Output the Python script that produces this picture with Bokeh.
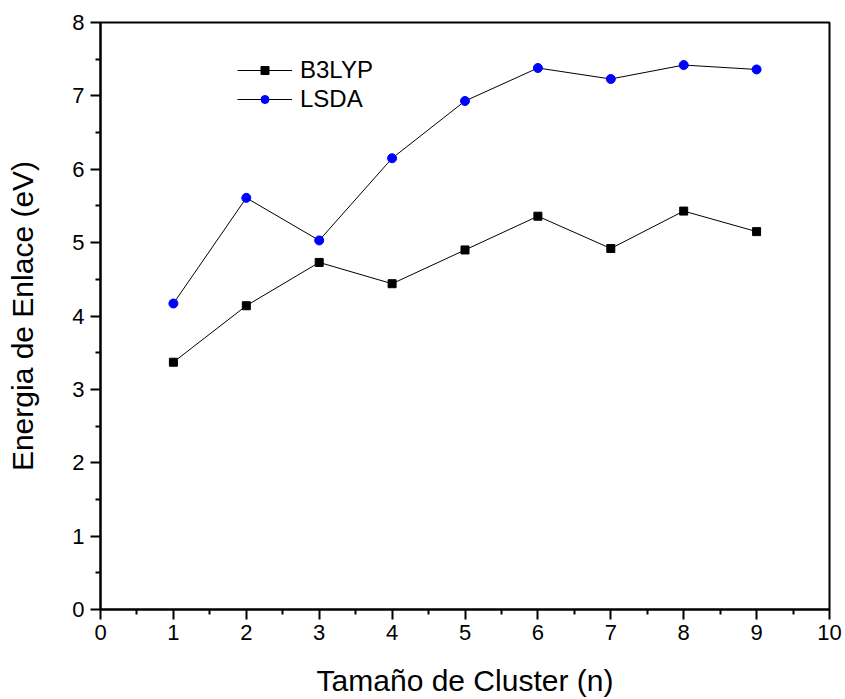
from bokeh.plotting import figure
from bokeh.embed import file_html
from bokeh.resources import INLINE
from bokeh.models import Range1d, FixedTicker, Legend

n = [1, 2, 3, 4, 5, 6, 7, 8, 9]
b3lyp = [3.37, 4.14, 4.73, 4.44, 4.90, 5.36, 4.92, 5.43, 5.15]
lsda = [4.17, 5.61, 5.03, 6.15, 6.93, 7.38, 7.23, 7.42, 7.36]
x_ticks = [0, 1, 2, 3, 4, 5, 6, 7, 8, 9, 10]
y_ticks = [0, 1, 2, 3, 4, 5, 6, 7, 8]

FONT = "Liberation Sans"

p = figure(width=845, height=699, output_backend="svg", toolbar_location=None,
           x_range=Range1d(0, 10), y_range=Range1d(0, 8),
           min_border_left=100, min_border_right=16, min_border_top=22, min_border_bottom=90)

p.xgrid.visible = False
p.ygrid.visible = False
p.outline_line_color = "black"
p.outline_line_width = 2
p.outline_line_alpha = 1.0

for ax, ticks in ((p.xaxis[0], x_ticks), (p.yaxis[0], y_ticks)):
    ax.ticker = FixedTicker(ticks=ticks, minor_ticks=[t + 0.5 for t in ticks[:-1]])
    ax.axis_line_width = 2
    ax.axis_line_color = "black"
    ax.major_tick_line_width = 2
    ax.minor_tick_line_width = 2
    ax.major_tick_in = 0
    ax.major_tick_out = 10
    ax.minor_tick_in = 0
    ax.minor_tick_out = 5
    ax.major_label_text_font = FONT
    ax.major_label_text_font_size = "22px"
    ax.major_label_text_color = "black"
    ax.major_label_standoff = 6
    ax.axis_label_text_font = FONT
    ax.axis_label_text_font_size = "30px"
    ax.axis_label_text_font_style = "normal"
    ax.axis_label_text_color = "black"

p.xaxis.axis_label = "Tamaño de Cluster (n)"
p.yaxis.axis_label = "Energia de Enlace (eV)"
p.xaxis.major_label_standoff = 5
p.xaxis.axis_label_standoff = 21
p.yaxis.axis_label_standoff = 30

l1 = p.line(n, b3lyp, line_color="black", line_width=1)
s1 = p.scatter(n, b3lyp, marker="square", size=8, fill_color="black", line_color="black")
l2 = p.line(n, lsda, line_color="black", line_width=1)
s2 = p.scatter(n, lsda, marker="circle", size=9, fill_color="blue", line_color="blue")

legend = Legend(items=[("B3LYP", [l1, s1]), ("LSDA", [l2, s2])],
                location=(137, 496), padding=0, margin=0, spacing=1,
                glyph_width=55, glyph_height=20, label_height=20, label_standoff=8,
                label_text_font=FONT, label_text_font_size="24px",
                label_text_color="black",
                border_line_alpha=0, background_fill_alpha=0)
p.add_layout(legend)

open("out.html", "w").write(file_html(p, INLINE))
